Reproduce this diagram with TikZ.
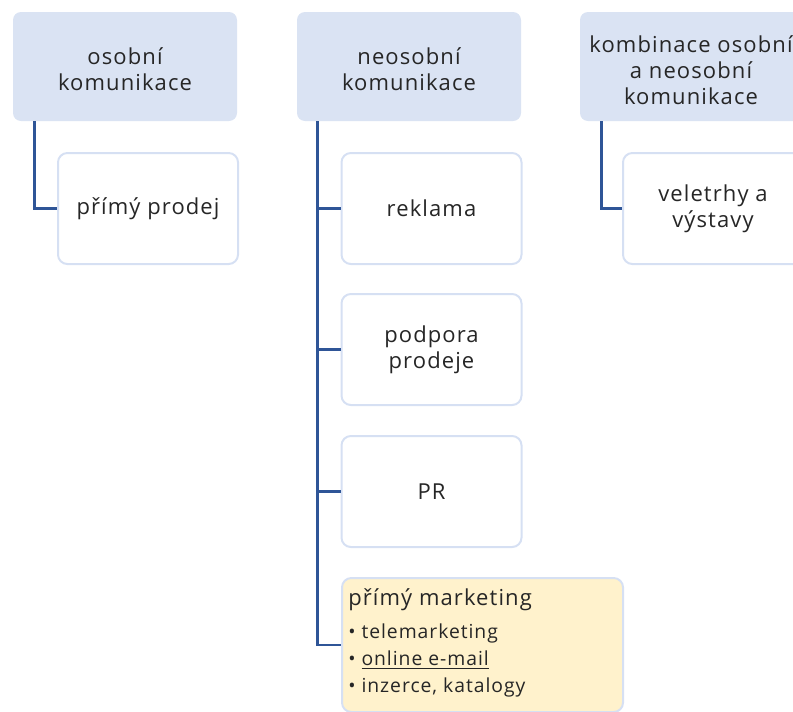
\documentclass[tikz,border=0pt]{standalone}
\usepackage{fontspec}
\setmainfont[LetterSpace=5]{Open Sans}
\usetikzlibrary{calc}
\definecolor{hdr}{HTML}{DAE3F3}
\definecolor{bord}{HTML}{D6E0F3}
\definecolor{conn}{HTML}{2F5597}
\definecolor{yel}{HTML}{FFF2CC}
\definecolor{txt}{HTML}{262626}
\tikzset{
  hdrbox/.style={fill=hdr, draw=none, rounded corners=6pt, minimum width=168pt, minimum height=81.75pt},
  hdrtext/.style={align=center, text=txt, font=\fontsize{16.5}{19.5}\selectfont, inner sep=0pt},
  childbox/.style={fill=white, draw=bord, line width=1.5pt, rounded corners=7pt, minimum width=135pt, minimum height=83.25pt, align=center, text=txt, font=\fontsize{16.5}{19.5}\selectfont, inner sep=0pt},
  connector/.style={draw=conn, line width=1.9pt}
}
\begin{document}
\begin{tikzpicture}[x=0.75pt,y=-0.75pt]
\useasboundingbox (0,0) rectangle (793,711);
\clip (0,0) rectangle (793,711);
\node[hdrbox] (h1) at (125,66.5) {};
\node[hdrbox] (h2) at (409,66.5) {};
\node[hdrbox, minimum width=172.5pt] (h3) at (695,66.5) {};
\node[hdrtext] (h1t) at (125,69) {osobní\\komunikace};
\node[hdrtext] (h2t) at (409,69) {neosobní\\komunikace};
\node[hdrtext] (h3t) at (691,70) {kombinace osobní\\a neosobní\\komunikace};
\node[childbox] (c1) at (148,208.5) {přímý prodej};
\node[childbox] (c2) at (431.5,208.5) {reklama};
\node[childbox] (c3) at (431.5,349.5) {podpora\\prodeje};
\node[childbox] (c4) at (431.5,491.5) {PR};
\node[childbox] (c6) at (713,208.5) {veletrhy a\\výstavy};
\node[childbox, fill=yel, minimum width=210.75pt, minimum height=100.5pt] (c5) at (482.5,645) {};
\node[anchor=north west, align=left, text=txt, inner sep=0pt, font=\fontsize{16.5}{19.5}\selectfont] (m1) at ($(c5.north west)+(7,11)$) {přímý marketing};
\node[anchor=north west, align=left, text=txt, inner sep=0pt, font=\fontsize{14.5}{20.25}\selectfont] (m2) at ($(c5.north west)+(7,47)$) {• telemarketing\\• \underline{online e-mail}\\• inzerce, katalogy};
\coordinate (t1) at ($(h1.south west)+(22,0)$);
\coordinate (t2) at ($(h2.south west)+(21,0)$);
\coordinate (t3) at ($(h3.south west)+(22,0)$);
\draw[connector] (t1) |- (c1.west);
\draw[connector] (t2) |- (c2.west);
\draw[connector] (t2) |- (c3.west);
\draw[connector] (t2) |- (c4.west);
\draw[connector] (t2) |- (c5.west);
\draw[connector] (t3) |- (c6.west);
\end{tikzpicture}
\end{document}
